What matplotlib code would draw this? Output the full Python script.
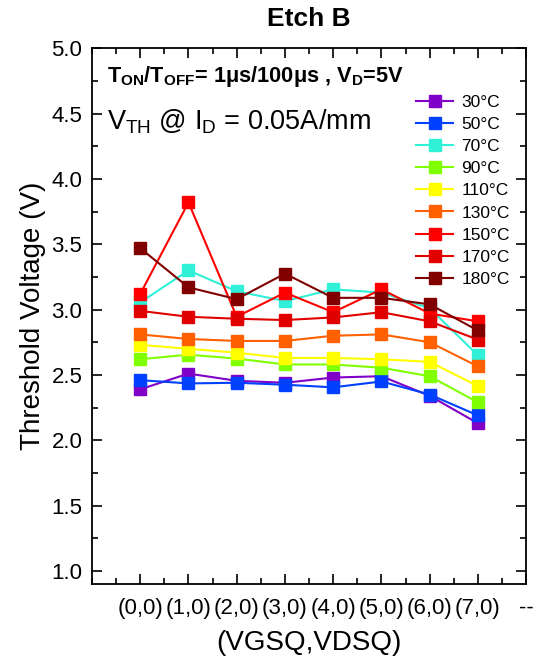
import matplotlib
matplotlib.use('Agg')

import matplotlib.pyplot as plt
import numpy as np
from matplotlib.ticker import MultipleLocator

plt.rcParams['font.family'] = ['Liberation Sans', 'DejaVu Sans']
plt.rcParams['mathtext.fontset'] = 'custom'
plt.rcParams['mathtext.rm'] = 'Liberation Sans'
plt.rcParams['mathtext.it'] = 'Liberation Sans:italic'
plt.rcParams['mathtext.bf'] = 'Liberation Sans:bold'

# data
conditions = ['(0,0)', '(1,0)', '(2,0)', '(3,0)', '(4,0)', '(5,0)', '(6,0)', '(7,0)']
temps = ['30°C', '50°C', '70°C', '90°C', '110°C', '130°C', '150°C', '170°C', '180°C']
colors = ['#8000C8', '#0040FF', '#30F0D8', '#80FF00', '#FFFF00',
          '#FF6000', '#FF0000', '#E00000', '#800000']

vth_30 = [2.39, 2.51, 2.455, 2.44, 2.48, 2.49, 2.34, 2.13]
vth_50 = [2.46, 2.435, 2.44, 2.425, 2.405, 2.45, 2.35, 2.19]
vth_70 = [3.055, 3.30, 3.14, 3.065, 3.155, 3.13, 3.01, 2.65]
vth_90 = [2.62, 2.655, 2.625, 2.58, 2.58, 2.555, 2.49, 2.29]
vth_110 = [2.73, 2.70, 2.67, 2.63, 2.63, 2.62, 2.60, 2.415]
vth_130 = [2.81, 2.775, 2.76, 2.76, 2.80, 2.81, 2.75, 2.565]
vth_150 = [3.12, 3.82, 2.945, 3.13, 2.98, 3.155, 2.97, 2.91]
vth_170 = [2.99, 2.945, 2.93, 2.92, 2.94, 2.98, 2.91, 2.77]
vth_180 = [3.47, 3.17, 3.08, 3.275, 3.09, 3.09, 3.04, 2.84]

series = [vth_30, vth_50, vth_70, vth_90, vth_110, vth_130, vth_150, vth_170, vth_180]

fig = plt.figure(figsize=(5.38, 6.61), dpi=100)
ax = fig.add_axes([0.171, 0.1165, 0.807, 0.8105])

x = np.arange(len(conditions))
for vals, lab, c in zip(series, temps, colors):
    ax.plot(x, vals, '-s', color=c, lw=1.5, ms=8, label=lab)

ax.set_xlim(-1, 8)
ax.set_ylim(0.9, 5.0)
ax.set_xticks(list(x) + [8])
ax.set_xticklabels(conditions + ['--'])
ax.xaxis.set_minor_locator(MultipleLocator(0.5))
ax.yaxis.set_major_locator(MultipleLocator(0.5))
ax.yaxis.set_minor_locator(MultipleLocator(0.25))
ax.tick_params(which='both', direction='in', top=True, right=True, labelsize=16, width=1.2)
ax.tick_params(which='major', length=7)
ax.tick_params(which='minor', length=4)
ax.tick_params(axis='x', which='major', pad=10)
ax.tick_params(axis='y', which='major', pad=7)
for s in ax.spines.values():
    s.set_linewidth(1.3)

ax.set_ylabel('Threshold Voltage (V)', fontsize=20, labelpad=4)
ax.set_xlabel('(VGSQ,VDSQ)', fontsize=20, labelpad=8)
ax.set_title('Etch B', fontsize=19, fontweight='bold', pad=16)

ax.text(0.035, 0.948, r'$\mathbf{T_{ON}/T_{OFF}}$= 1μs/100μs , $\mathbf{V_{D}}$=5V',
        transform=ax.transAxes, fontsize=15.7, fontweight='bold', va='center')
ax.text(0.035, 0.863, r'V$_{\mathrm{TH}}$ @ I$_{\mathrm{D}}$ = 0.05A/mm',
        transform=ax.transAxes, fontsize=19.5, va='center')

ax.legend(loc='upper left', bbox_to_anchor=(0.747, 0.913), frameon=False,
          fontsize=12.5, handlelength=2.1, labelspacing=0.4, handletextpad=0.5,
          borderaxespad=0, borderpad=0)

fig.savefig('out.png', dpi=100)
